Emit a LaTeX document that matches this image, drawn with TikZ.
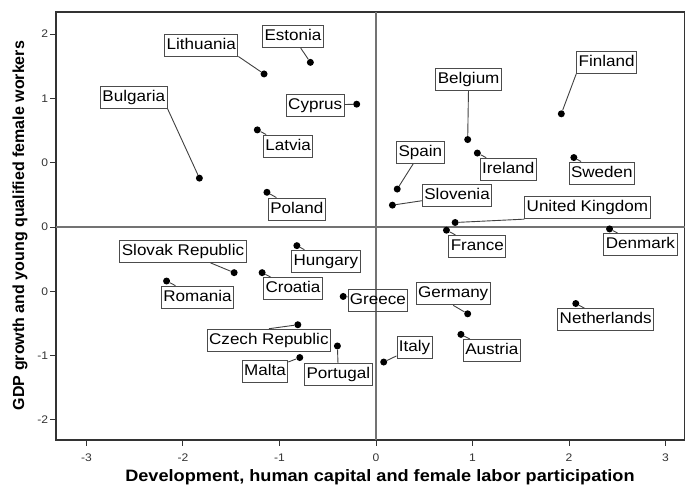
\documentclass[tikz,border=0pt]{standalone}
\usepackage{fontspec}
\usepackage{tikz}
\newfontfamily\plotfont[FakeStretch=1.1]{Liberation Sans}
\newfontfamily\axisfont{Liberation Sans}

\begin{document}
\begin{tikzpicture}[x=96.5pt,y=64.3pt,
  lbl/.style={draw=black!70,line width=0.9pt,inner xsep=2pt,inner ysep=3.6pt,
    text height=11.5pt,text depth=3.3pt,font=\plotfont\fontsize{15.5}{16}\selectfont},
  dot/.style={circle,fill=black,inner sep=0pt,minimum size=7pt},
  tick/.style={font=\plotfont\fontsize{11}{12}\selectfont,text=black!80,inner sep=0pt}]
\useasboundingbox (-3.896,-4.075) rectangle (3.212,3.530);

% frame and zero lines
\draw[line width=1.3pt,black!80] (-3.316,-3.313) rectangle (3.200,3.344);
\draw[line width=1.1pt,black!55] (0,-3.313) -- (0,3.344);
\draw[line width=1.1pt,black!55] (-3.316,0) -- (3.200,0);

% ticks
\foreach \x in {-3,...,3} {
\draw[line width=1pt,black!80] (\x,-3.313) -- (\x,-3.406);
\node[tick] (xt\x) at (\x,-3.588) {\x};}
\foreach \y/\l in {3/2,2/1,1/0,0/0,-1/0,-2/-1,-3/-2} {
\draw[line width=1pt,black!80] (-3.316,\y) -- (-3.378,\y);
\node[tick,anchor=east] (yt\y) at (-3.395,\y) {\l};}

% axis titles
\node[font=\plotfont\bfseries\fontsize{16.5}{18}\selectfont] (xtitle) at (0.041,-3.888)
  {Development, human capital and female labor participation};
\node[font=\axisfont\bfseries\fontsize{16}{18}\selectfont,rotate=90] (ytitle) at (-3.689,0.023)
  {GDP growth and young qualified female workers};

% countries
\foreach \n/\px/\py/\bx/\by/\a/\t in {
lit/-1.16/2.38/-1.81/2.83/.south east/Lithuania,
est/-0.68/2.56/-0.86/2.96/{}/Estonia,
bul/-1.83/0.76/-2.51/2.02/.south east/Bulgaria,
cyp/-0.20/1.91/-0.63/1.89/{}/Cyprus,
lat/-1.23/1.51/-0.91/1.26/{}/Latvia,
pol/-1.13/0.54/-0.82/0.28/{}/Poland,
fin/1.92/1.76/2.39/2.56/.south west/Finland,
bel/0.95/1.36/0.96/2.29/{}/Belgium,
spa/0.22/0.59/0.46/1.16/{}/Spain,
ire/1.05/1.15/1.37/0.90/{}/Ireland,
swe/2.05/1.08/2.34/0.84/{}/Sweden,
slo/0.17/0.34/0.84/0.49/{}/Slovenia,
uk/0.82/0.07/2.19/0.30/.south west/United Kingdom,
fra/0.73/-0.05/1.05/-0.30/{}/France,
den/2.42/-0.03/2.74/-0.27/{}/Denmark,
svk/-1.47/-0.71/-2.00/-0.38/{}/Slovak Republic,
rom/-2.17/-0.84/-1.85/-1.09/{}/Romania,
hun/-0.82/-0.29/-0.52/-0.53/{}/Hungary,
cro/-1.18/-0.71/-0.86/-0.96/{}/Croatia,
gre/-0.34/-1.08/0.02/-1.14/{}/Greece,
cze/-0.81/-1.52/-1.11/-1.76/.north/Czech Republic,
mal/-0.79/-2.03/-1.15/-2.24/{}/Malta,
por/-0.40/-1.85/-0.39/-2.29/{}/Portugal,
ita/0.08/-2.10/0.40/-1.87/{}/Italy,
ger/0.95/-1.35/0.80/-1.04/.south/Germany,
aus/0.88/-1.67/1.20/-1.92/{}/Austria,
net/2.07/-1.19/2.38/-1.44/{}/Netherlands} {
\node[dot] (\n-p) at (\px,\py) {};
\node[lbl] (\n) at (\bx,\by) {\t};
\draw[line width=0.9pt,black!75] (\n-p) -- (\n\a);}
\end{tikzpicture}
\end{document}
